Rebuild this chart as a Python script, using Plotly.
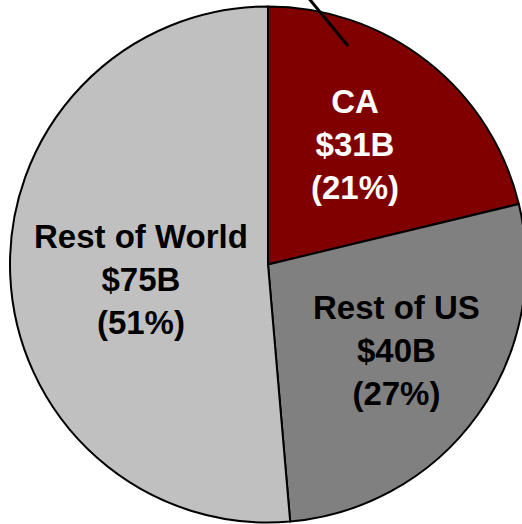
import math
import plotly.graph_objects as go

labels = ["CA", "Rest of US", "Rest of World"]
values = [31, 40, 75]
percents = ["21%", "27%", "51%"]
colors = ["#800000", "#808080", "#C0C0C0"]
text_colors = ["white", "black", "black"]

# label placement (style): radial fraction and angular nudge in degrees
label_r = [0.573, 0.597, 0.494]
label_dtheta = [-2.2, -2.0, -4.5]

W, H = 530, 524
cx_px, cy_px, R_px = 268.0, 264.5, 258.0

fig = go.Figure(go.Pie(
    labels=labels,
    values=values,
    textinfo="none",
    sort=False,
    direction="clockwise",
    rotation=0,
    marker=dict(colors=colors, line=dict(color="black", width=2)),
    domain=dict(x=[(cx_px - R_px) / W, (cx_px + R_px) / W],
                y=[(H - (cy_px + R_px)) / H, (H - (cy_px - R_px)) / H]),
    showlegend=False,
    hoverinfo="none",
))

total = sum(values)
cum = 0
for lab, v, p, tc, rf, dt in zip(labels, values, percents, text_colors, label_r, label_dtheta):
    mid = (cum + v / 2) / total * 360 + dt
    cum += v
    th = math.radians(mid)
    x_px = cx_px + rf * R_px * math.sin(th)
    y_px = cy_px - rf * R_px * math.cos(th)
    fig.add_annotation(
        x=x_px / W, y=1 - y_px / H, xref="paper", yref="paper",
        text=f"{lab}<br>${v}B<br>({p})", showarrow=False,
        xanchor="center", yanchor="middle", align="center",
        font=dict(family="Liberation Sans, Arial", size=33, color=tc, weight="bold"),
    )

fig.add_shape(type="line", xref="paper", yref="paper",
              x0=308 / W, y0=1.005, x1=348 / W, y1=(H - 46) / H,
              line=dict(color="black", width=3))

fig.update_layout(
    width=W, height=H, autosize=False,
    margin=dict(l=0, r=0, t=0, b=0),
    paper_bgcolor="white", plot_bgcolor="white",
)

fig.write_html("out.html", config={"displayModeBar": False},
               post_script="document.body.style.margin='0';document.body.style.overflow='hidden';")
